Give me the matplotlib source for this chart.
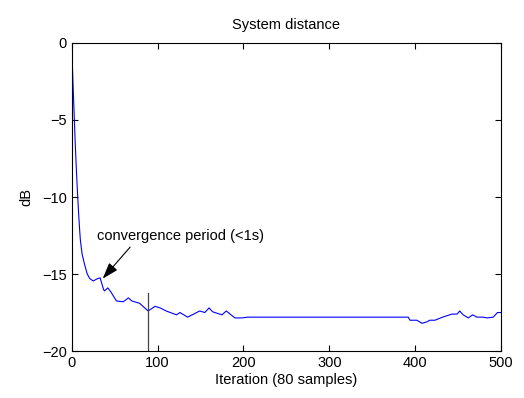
import matplotlib
matplotlib.use('Agg')
import matplotlib.pyplot as plt

plt.rcParams['font.family'] = ['Liberation Sans', 'DejaVu Sans']
plt.rcParams['font.size'] = 10

# System distance curve
iters = [0, 1, 2, 3, 4, 5, 6, 7, 8, 9, 10, 12, 15, 18, 21, 25, 30, 33, 37, 38, 42, 46,
         52, 60, 66, 70, 79, 89, 97, 103, 110, 122, 126, 135, 149, 155, 160, 164,
         175, 180, 190, 198, 205, 219, 300, 392, 394, 402, 408, 414, 417, 423, 432,
         443, 449, 452, 456, 462, 467, 472, 479, 484, 491, 496, 500]
dist_db = [0, -2.0, -3.5, -5.0, -6.5, -7.8, -9.0, -10.1, -11.1, -12.0, -12.8, -13.7,
           -14.4, -15.0, -15.3, -15.45, -15.3, -15.25, -16.0, -16.1, -15.9, -16.2,
           -16.75, -16.8, -16.55, -16.75, -16.9, -17.4, -17.1, -17.2, -17.4, -17.65,
           -17.5, -17.8, -17.4, -17.5, -17.2, -17.45, -17.65, -17.4, -17.85, -17.85,
           -17.8, -17.8, -17.8, -17.8, -18.0, -18.0, -18.2, -18.1, -18.0, -18.0,
           -17.8, -17.6, -17.6, -17.4, -17.65, -17.85, -17.65, -17.8, -17.8, -17.85,
           -17.8, -17.5, -17.5]

marker_x = 89
marker_y = [-20, -16.2]
arrow_tip = (36, -15.3)
arrow_start = (68, -13.25)
text_pos = (29, -12.55)

fig = plt.figure(figsize=(5.24, 3.98), dpi=100)
ax = fig.add_axes([0.137, 0.118, 0.819, 0.774])

ax.plot(iters, dist_db, color='#0000ff', linewidth=0.8)
ax.plot([marker_x, marker_x], marker_y, color='#444444', linewidth=0.9)

ax.text(text_pos[0], text_pos[1], 'convergence period (<1s)', ha='left', va='center', fontsize=10.5)
ax.annotate('', xy=arrow_tip, xytext=arrow_start,
            arrowprops=dict(arrowstyle='-|>,head_length=0.9,head_width=0.3', color='black',
                            lw=0.8, mutation_scale=11, shrinkA=0, shrinkB=0))

ax.set_xlim(0, 500)
ax.set_ylim(-20, 0)
ax.set_xticks([0, 100, 200, 300, 400, 500])
ax.set_yticks([-20, -15, -10, -5, 0])
ax.tick_params(direction='in', top=True, right=True, length=4, labelsize=10.5)
for s in ax.spines.values():
    s.set_linewidth(0.8)

ax.set_title('System distance', fontsize=10.5, pad=10)
ax.set_xlabel('Iteration (80 samples)', fontsize=10.5, labelpad=2)
ax.set_ylabel('dB', fontsize=10.5, labelpad=6)

fig.savefig('out.png', dpi=100)
